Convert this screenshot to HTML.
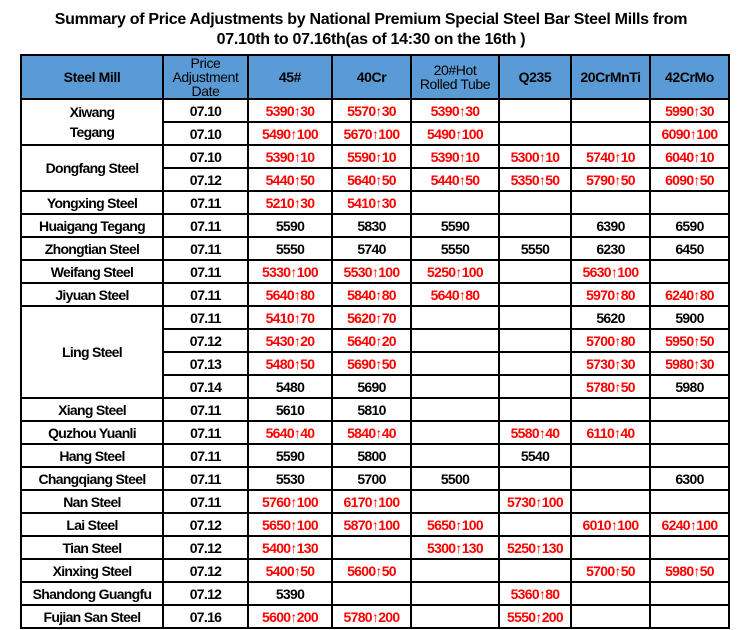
<!DOCTYPE html>
<html><head><meta charset="utf-8"><style>
body{margin:0;width:742px;height:630px;background:#fff;font-family:"Liberation Sans",Arial,sans-serif;overflow:hidden}
.t{position:absolute;left:0;top:10px;width:742px;text-align:center;font-weight:bold;font-size:16px;line-height:20px;color:#000;letter-spacing:-0.3px}
table{position:absolute;left:20px;top:54px;border-collapse:collapse;table-layout:fixed;width:708px}
td,th{border:2px solid #000;padding:0;text-align:center;font-weight:bold;font-size:14px;height:21px;line-height:18px;white-space:nowrap;overflow:hidden;letter-spacing:-0.7px}
th{background:#5b9bd5;height:41px;font-size:14px;line-height:14px;letter-spacing:-0.4px}
.r{color:#f00;font-size:14px}
</style></head><body>
<div class="t">Summary of Price Adjustments by National Premium Special Steel Bar Steel Mills from<br>07.10th to 07.16th(as of 14:30 on the 16th )</div>
<table>
<colgroup><col style="width:142px"><col style="width:85px"><col style="width:84px"><col style="width:79px"><col style="width:88px"><col style="width:72px"><col style="width:79px"><col style="width:79px"></colgroup>
<tr><th>Steel Mill</th><th style="font-weight:normal">Price<br>Adjustment<br>Date</th><th>45#</th><th>40Cr</th><th style="font-weight:normal">20#Hot<br>Rolled Tube</th><th>Q235</th><th>20CrMnTi</th><th>42CrMo</th></tr>
<tr><td rowspan="2" style="line-height:20px">Xiwang<br>Tegang</td><td>07.10</td><td class="r">5390↑30</td><td class="r">5570↑30</td><td class="r">5390↑30</td><td></td><td></td><td class="r">5990↑30</td></tr>
<tr><td>07.10</td><td class="r">5490↑100</td><td class="r">5670↑100</td><td class="r">5490↑100</td><td></td><td></td><td class="r">6090↑100</td></tr>
<tr><td rowspan="2">Dongfang Steel</td><td>07.10</td><td class="r">5390↑10</td><td class="r">5590↑10</td><td class="r">5390↑10</td><td class="r">5300↑10</td><td class="r">5740↑10</td><td class="r">6040↑10</td></tr>
<tr><td>07.12</td><td class="r">5440↑50</td><td class="r">5640↑50</td><td class="r">5440↑50</td><td class="r">5350↑50</td><td class="r">5790↑50</td><td class="r">6090↑50</td></tr>
<tr><td>Yongxing Steel</td><td>07.11</td><td class="r">5210↑30</td><td class="r">5410↑30</td><td></td><td></td><td></td><td></td></tr>
<tr><td>Huaigang Tegang</td><td>07.11</td><td>5590</td><td>5830</td><td>5590</td><td></td><td>6390</td><td>6590</td></tr>
<tr><td>Zhongtian Steel</td><td>07.11</td><td>5550</td><td>5740</td><td>5550</td><td>5550</td><td>6230</td><td>6450</td></tr>
<tr><td>Weifang Steel</td><td>07.11</td><td class="r">5330↑100</td><td class="r">5530↑100</td><td class="r">5250↑100</td><td></td><td class="r">5630↑100</td><td></td></tr>
<tr><td>Jiyuan Steel</td><td>07.11</td><td class="r">5640↑80</td><td class="r">5840↑80</td><td class="r">5640↑80</td><td></td><td class="r">5970↑80</td><td class="r">6240↑80</td></tr>
<tr><td rowspan="4">Ling Steel</td><td>07.11</td><td class="r">5410↑70</td><td class="r">5620↑70</td><td></td><td></td><td>5620</td><td>5900</td></tr>
<tr><td>07.12</td><td class="r">5430↑20</td><td class="r">5640↑20</td><td></td><td></td><td class="r">5700↑80</td><td class="r">5950↑50</td></tr>
<tr><td>07.13</td><td class="r">5480↑50</td><td class="r">5690↑50</td><td></td><td></td><td class="r">5730↑30</td><td class="r">5980↑30</td></tr>
<tr><td>07.14</td><td>5480</td><td>5690</td><td></td><td></td><td class="r">5780↑50</td><td>5980</td></tr>
<tr><td>Xiang Steel</td><td>07.11</td><td>5610</td><td>5810</td><td></td><td></td><td></td><td></td></tr>
<tr><td>Quzhou Yuanli</td><td>07.11</td><td class="r">5640↑40</td><td class="r">5840↑40</td><td></td><td class="r">5580↑40</td><td class="r">6110↑40</td><td></td></tr>
<tr><td>Hang Steel</td><td>07.11</td><td>5590</td><td>5800</td><td></td><td>5540</td><td></td><td></td></tr>
<tr><td>Changqiang Steel</td><td>07.11</td><td>5530</td><td>5700</td><td>5500</td><td></td><td></td><td>6300</td></tr>
<tr><td>Nan Steel</td><td>07.11</td><td class="r">5760↑100</td><td class="r">6170↑100</td><td></td><td class="r">5730↑100</td><td></td><td></td></tr>
<tr><td>Lai Steel</td><td>07.12</td><td class="r">5650↑100</td><td class="r">5870↑100</td><td class="r">5650↑100</td><td></td><td class="r">6010↑100</td><td class="r">6240↑100</td></tr>
<tr><td>Tian Steel</td><td>07.12</td><td class="r">5400↑130</td><td></td><td class="r">5300↑130</td><td class="r">5250↑130</td><td></td><td></td></tr>
<tr><td>Xinxing Steel</td><td>07.12</td><td class="r">5400↑50</td><td class="r">5600↑50</td><td></td><td></td><td class="r">5700↑50</td><td class="r">5980↑50</td></tr>
<tr><td>Shandong Guangfu</td><td>07.12</td><td>5390</td><td></td><td></td><td class="r">5360↑80</td><td></td><td></td></tr>
<tr><td>Fujian San Steel</td><td>07.16</td><td class="r">5600↑200</td><td class="r">5780↑200</td><td></td><td class="r">5550↑200</td><td></td><td></td></tr>
</table>
</body></html>
